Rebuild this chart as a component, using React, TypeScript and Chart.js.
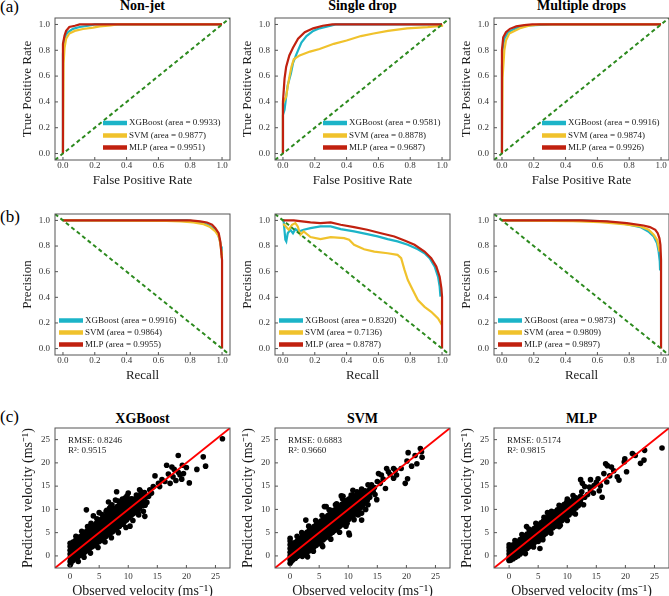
import React, { useEffect, useRef } from "react";
import { Chart, registerables } from "chart.js";

Chart.register(...registerables);

const SERIF = '"Liberation Serif", "Times New Roman", Times, serif';

// ---------------- labels & styles ----------------
const modelNames = ["XGBoost", "SVM", "MLP"];
const modelColors = ["#1cb4c8", "#f0c22c", "#c1210f"];
const chanceColor = "#2c8a1e";
const rocTitles = ["Non-jet", "Single drop", "Multiple drops"];
const scatterTitles = ["XGBoost", "SVM", "MLP"];
const panelLetters = ["(a)", "(b)", "(c)"];
const unitTicks = [0, 0.2, 0.4, 0.6, 0.8, 1.0];
const velocityTicks = [0, 5, 10, 15, 20, 25];
const unitRange = [-0.05, 1.05];
const velocityRange = [-2.6, 27.5];

const rocAreasNonJet = ["0.9933", "0.9877", "0.9951"];
const rocAreasSingle = ["0.9581", "0.8878", "0.9687"];
const rocAreasMultiple = ["0.9916", "0.9874", "0.9926"];
const prAreasNonJet = ["0.9916", "0.9864", "0.9955"];
const prAreasSingle = ["0.8320", "0.7136", "0.8787"];
const prAreasMultiple = ["0.9873", "0.9809", "0.9897"];
const rmseValues = ["0.8246", "0.6883", "0.5174"];
const r2Values = ["0.9515", "0.9660", "0.9815"];

// ---------------- ROC curves (FPR, TPR) ----------------
const rocNonJetXGB = [[0,0],[0,0.77],[0.006,0.876],[0.017,0.915],[0.03,0.94],[0.063,0.966],[0.105,0.98],[0.158,0.99],[0.2,1.0],[1,1]];
const rocNonJetSVM = [[0,0],[0.004,0.70],[0.01,0.82],[0.02,0.89],[0.04,0.93],[0.074,0.95],[0.126,0.965],[0.19,0.975],[0.23,0.985],[0.3,0.992],[0.34,1.0],[1,1]];
const rocNonJetMLP = [[0,0],[0,0.85],[0.01,0.915],[0.02,0.95],[0.04,0.98],[0.075,0.99],[0.105,1.0],[1,1]];

const rocSingleXGB = [[0,0],[0,0.3],[0.01,0.34],[0.02,0.44],[0.03,0.53],[0.05,0.62],[0.063,0.70],[0.085,0.77],[0.116,0.86],[0.148,0.91],[0.19,0.95],[0.23,0.97],[0.3,0.99],[0.33,1.0],[1,1]];
const rocSingleSVM = [[0,0],[0,0.39],[0.02,0.44],[0.03,0.52],[0.04,0.59],[0.053,0.67],[0.068,0.73],[0.105,0.76],[0.17,0.79],[0.23,0.81],[0.32,0.85],[0.40,0.876],[0.49,0.91],[0.57,0.93],[0.66,0.95],[0.78,0.97],[0.91,0.98],[1.0,0.99],[1,1]];
const rocSingleMLP = [[0,0],[0,0.4],[0.01,0.58],[0.02,0.67],[0.04,0.76],[0.063,0.82],[0.095,0.89],[0.137,0.94],[0.19,0.97],[0.25,0.99],[0.31,1.0],[1,1]];

const rocMultiXGB = [[0,0],[0,0.67],[0.004,0.81],[0.015,0.89],[0.036,0.935],[0.068,0.96],[0.11,0.98],[0.17,0.992],[0.24,0.997],[0.32,1.0],[1,1]];
const rocMultiSVM = [[0,0],[0.004,0.59],[0.015,0.8],[0.025,0.876],[0.046,0.93],[0.078,0.95],[0.12,0.974],[0.17,0.99],[0.24,1.0],[1,1]];
const rocMultiMLP = [[0,0],[0,0.8],[0.008,0.9],[0.025,0.94],[0.05,0.966],[0.09,0.985],[0.14,0.995],[0.19,1.0],[1,1]];

// ---------------- PR curves (Recall, Precision) ----------------
const prNonJetXGB = [[0,1],[0.78,1.0],[0.84,0.99],[0.895,0.974],[0.926,0.953],[0.958,0.927],[0.975,0.888],[0.985,0.849],[0.994,0.796],[0.998,0.73]];
const prNonJetSVM = [[0,1],[0.65,0.997],[0.74,0.992],[0.82,0.984],[0.884,0.971],[0.926,0.948],[0.958,0.914],[0.979,0.875],[0.989,0.822],[0.996,0.757],[0.998,0.705]];
const prNonJetMLP = [[0,1],[0.8,1.0],[0.863,0.992],[0.905,0.984],[0.937,0.966],[0.958,0.94],[0.979,0.9],[0.989,0.836],[0.994,0.77],[1.0,0.69],[1.0,0.0]];

const prSingleXGB = [[0,1.0],[0.004,1.0],[0.015,0.85],[0.021,0.836],[0.03,0.9],[0.046,0.927],[0.063,0.9],[0.078,0.932],[0.1,0.914],[0.13,0.927],[0.173,0.94],[0.236,0.953],[0.3,0.953],[0.363,0.932],[0.447,0.914],[0.53,0.893],[0.595,0.875],[0.658,0.854],[0.72,0.836],[0.785,0.81],[0.848,0.775],[0.89,0.744],[0.922,0.705],[0.954,0.64],[0.975,0.56],[0.985,0.483],[0.99,0.405]];
const prSingleSVM = [[0,0.97],[0.008,0.966],[0.036,0.927],[0.057,0.966],[0.078,0.979],[0.093,0.953],[0.11,0.888],[0.13,0.914],[0.173,0.87],[0.236,0.854],[0.3,0.87],[0.384,0.862],[0.416,0.849],[0.447,0.81],[0.51,0.775],[0.574,0.757],[0.658,0.744],[0.72,0.731],[0.743,0.705],[0.764,0.614],[0.785,0.535],[0.816,0.457],[0.848,0.379],[0.89,0.326],[0.932,0.287],[0.975,0.235],[1.0,0.183]];
const prSingleMLP = [[0,1.0],[0.068,1.0],[0.12,0.992],[0.173,0.984],[0.236,0.979],[0.3,0.984],[0.363,0.966],[0.447,0.948],[0.53,0.927],[0.616,0.9],[0.7,0.875],[0.764,0.843],[0.827,0.81],[0.89,0.757],[0.932,0.705],[0.964,0.64],[0.985,0.561],[0.996,0.47],[1.0,0.405],[1.0,0.0]];

const prMultiXGB = [[0,1],[0.51,1.0],[0.658,0.99],[0.785,0.971],[0.87,0.948],[0.92,0.914],[0.954,0.875],[0.975,0.822],[0.985,0.757],[0.992,0.68],[0.994,0.61]];
const prMultiSVM = [[0,1],[0.447,0.995],[0.616,0.987],[0.764,0.971],[0.87,0.953],[0.922,0.927],[0.954,0.888],[0.975,0.849],[0.985,0.796],[0.99,0.757]];
const prMultiMLP = [[0,1],[0.49,1.0],[0.66,0.992],[0.785,0.979],[0.89,0.96],[0.93,0.948],[0.964,0.927],[0.979,0.9],[0.99,0.86],[0.996,0.81],[1.0,0.69],[1.0,0.0]];

const rocChance = [[-0.05,-0.05],[1.05,1.05]];
const prChance = [[-0.05,1.05],[1.05,-0.05]];
const identityLine = [[-2.6,-2.6],[27.5,27.5]];

// ---------------- regression scatter (observed, predicted) ----------------
const xgbPoints = [
  [0,-2.0],[0,-1.2],[0,-0.4],[0,0.4],[0,1.2],[0,2.0],[0,2.7],
  [0.15,-1.5],[0.15,-0.6],[0.2,0.3],[0.2,1.1],[0.15,1.9],[0.2,2.6],
  [0.5,-1.0],[0.5,-0.2],[0.5,0.7],[0.5,1.5],[0.5,2.4],[0.5,3.0],
  [0.9,-0.6],[0.9,0.3],[0.9,1.1],[0.9,2.0],[0.9,2.8],[0.9,3.3],
  [1.3,-0.3],[1.3,0.6],[1.3,1.5],[1.3,2.4],[1.3,3.2],[1.3,3.7],
  [1.7,0.1],[1.7,1.0],[1.7,1.9],[1.7,2.8],[1.7,3.6],[1.7,4.1],
  [2.1,0.4],[2.1,1.3],[2.1,2.3],[2.1,3.2],[2.1,4.0],[2.1,4.5],
  [2.5,0.8],[2.5,1.7],[2.5,2.7],[2.5,3.6],[2.5,4.4],[2.5,5.0],
  [2.9,1.1],[2.9,2.1],[2.9,3.1],[2.9,4.0],[2.9,4.8],[2.9,5.4],
  [3.3,1.5],[3.3,2.5],[3.3,3.4],[3.3,4.4],[3.3,5.2],[3.3,5.8],
  [3.7,1.9],[3.7,2.9],[3.7,3.8],[3.7,4.8],[3.7,5.6],[3.7,6.2],
  [4.1,2.2],[4.1,3.2],[4.1,4.2],[4.1,5.2],[4.1,6.0],[4.1,6.6],
  [4.5,2.6],[4.5,3.6],[4.5,4.6],[4.5,5.6],[4.5,6.4],[4.5,7.0],
  [4.9,3.0],[4.9,4.0],[4.9,5.0],[4.9,6.0],[4.9,6.8],[4.9,7.4],
  [5.3,3.3],[5.3,4.3],[5.3,5.3],[5.3,6.3],[5.3,7.2],[5.3,7.8],
  [5.7,3.7],[5.7,4.7],[5.7,5.7],[5.7,6.7],[5.7,7.6],[5.7,8.2],
  [6.1,4.1],[6.1,5.1],[6.1,6.1],[6.1,7.1],[6.1,8.0],[6.1,8.6],
  [6.5,4.5],[6.5,5.5],[6.5,6.5],[6.5,7.5],[6.5,8.4],[6.5,9.0],
  [6.9,4.8],[6.9,5.9],[6.9,6.9],[6.9,7.9],[6.9,8.8],[6.9,9.4],
  [7.3,5.2],[7.3,6.3],[7.3,7.3],[7.3,8.3],[7.3,9.2],[7.3,9.8],
  [7.7,5.6],[7.7,6.7],[7.7,7.7],[7.7,8.7],[7.7,9.6],[7.7,10.2],
  [8.1,6.0],[8.1,7.1],[8.1,8.1],[8.1,9.1],[8.1,10.0],[8.1,10.6],
  [8.5,6.4],[8.5,7.5],[8.5,8.5],[8.5,9.5],[8.5,10.4],[8.5,11.0],
  [8.9,6.9],[8.9,7.9],[8.9,8.9],[8.9,9.9],[8.9,10.8],[8.9,11.3],
  [9.3,7.3],[9.3,8.3],[9.3,9.3],[9.3,10.3],[9.3,11.2],
  [9.7,7.7],[9.7,8.7],[9.7,9.7],[9.7,10.7],[9.7,11.6],
  [10.1,8.2],[10.1,9.2],[10.1,10.1],[10.1,11.1],[10.1,12.0],
  [10.5,8.7],[10.5,9.6],[10.5,10.5],[10.5,11.5],[10.5,12.3],
  [10.9,9.1],[10.9,10.1],[10.9,11.0],[10.9,11.9],
  [11.4,9.7],[11.4,10.6],[11.4,11.5],[11.4,12.4],
  [11.9,10.2],[11.9,11.2],[11.9,12.1],[11.9,12.9],
  [12.4,10.8],[12.4,11.8],[12.6,12.8],[12.9,11.4],[13.0,12.6],[12.8,13.6],
  [1.0,4.2],[2.0,5.3],[3.0,6.3],[3.6,7.0],[4.6,8.0],[5.5,8.9],[6.3,9.8],[7.0,10.6],
  [8.3,11.8],[9.5,12.5],[3.5,0.6],[4.8,1.8],[6.0,3.0],[7.1,3.9],[8.3,5.0],[9.6,6.1],
  [10.8,7.6],[11.8,8.8],[1.4,-1.2],[2.4,-0.3],[5.0,9.3],[4.0,8.6],[7.8,12.0],[6.6,11.6],
  [18.6,21.6],[22.9,21.3],[23.3,19.3],[21.8,18.6],[20.5,15.7],[19.5,17.7],[16.6,19.5],[17.5,19.1],
  [17.9,18.6],[18.9,17.4],[19.2,16.5],[17.7,17.0],[18.6,18.0],[14.6,17.2],[15.2,15.6],[16.3,16.0],
  [15.4,14.9],[14.3,14.9],[13.7,14.2],[8.0,13.8],[2.8,9.9],[11.4,13.1],[11.95,14.2],[10.8,12.2],
  [10.0,13.5],[12.85,8.5],[12.6,9.6],[10.3,6.4],[9.4,8.1],[6.8,10.3],[6.2,9.6],[7.7,7.8],[9.1,6.8],
  [26.2,25.2],[15.8,16.4],[14.0,13.5],[13.2,11.5],[12.2,13.8],[9.0,12.2],[7.2,11.0],[13.5,12.8],
  [16.9,17.6],[18.2,16.2],[20.0,19.0],[19.3,19.5],[17.2,15.6],[12.9,10.9],[11.7,9.3],[9.8,12.9]
];

const svmPoints = [
  [0,-1.6],[0,-0.8],[0,0.0],[0,0.8],[0,1.6],[0,2.4],[0,3.2],[0,3.8],
  [0.2,-1.2],[0.2,-0.3],[0.2,0.6],[0.2,1.5],[0.2,2.3],
  [0.5,-0.8],[0.5,0.1],[0.5,1.0],[0.5,1.9],[0.5,2.6],
  [0.9,-0.5],[0.9,0.4],[0.9,1.3],[0.9,2.2],[0.9,2.9],
  [1.3,-0.1],[1.3,0.8],[1.3,1.7],[1.3,2.6],[1.3,3.3],
  [1.7,0.3],[1.7,1.2],[1.7,2.1],[1.7,3.0],[1.7,3.7],
  [2.1,-0.1],[2.1,0.8],[2.1,1.7],[2.1,2.6],[2.1,3.5],[2.1,4.3],
  [2.5,0.3],[2.5,1.2],[2.5,2.1],[2.5,3.0],[2.5,3.9],[2.5,4.7],
  [2.9,0.7],[2.9,1.6],[2.9,2.5],[2.9,3.4],[2.9,4.3],[2.9,5.1],
  [3.3,1.1],[3.3,2.0],[3.3,2.9],[3.3,3.8],[3.3,4.7],[3.3,5.5],
  [3.7,1.5],[3.7,2.4],[3.7,3.3],[3.7,4.2],[3.7,5.1],[3.7,5.9],
  [4.1,1.9],[4.1,2.8],[4.1,3.7],[4.1,4.6],[4.1,5.5],[4.1,6.3],
  [4.5,2.3],[4.5,3.2],[4.5,4.1],[4.5,5.0],[4.5,5.9],[4.5,6.7],
  [4.9,2.7],[4.9,3.6],[4.9,4.5],[4.9,5.4],[4.9,6.3],[4.9,7.1],
  [5.3,3.1],[5.3,4.0],[5.3,4.9],[5.3,5.8],[5.3,6.7],[5.3,7.5],
  [5.7,3.5],[5.7,4.4],[5.7,5.3],[5.7,6.2],[5.7,7.1],[5.7,7.9],
  [6.1,3.9],[6.1,4.8],[6.1,5.7],[6.1,6.6],[6.1,7.5],[6.1,8.3],
  [6.5,4.3],[6.5,5.2],[6.5,6.1],[6.5,7.0],[6.5,7.9],[6.5,8.7],
  [6.9,4.7],[6.9,5.6],[6.9,6.5],[6.9,7.4],[6.9,8.3],[6.9,9.1],
  [7.3,5.1],[7.3,6.0],[7.3,6.9],[7.3,7.8],[7.3,8.7],[7.3,9.5],
  [7.7,5.5],[7.7,6.4],[7.7,7.3],[7.7,8.2],[7.7,9.1],[7.7,9.9],
  [8.1,5.9],[8.1,6.8],[8.1,7.7],[8.1,8.6],[8.1,9.5],[8.1,10.3],
  [8.5,6.3],[8.5,7.2],[8.5,8.1],[8.5,9.0],[8.5,9.9],[8.5,10.7],
  [8.9,6.7],[8.9,7.6],[8.9,8.5],[8.9,9.4],[8.9,10.3],[8.9,11.1],
  [9.3,7.1],[9.3,8.0],[9.3,8.9],[9.3,9.8],[9.3,10.7],[9.3,11.5],
  [9.7,7.5],[9.7,8.4],[9.7,9.3],[9.7,10.2],[9.7,11.1],[9.7,11.9],
  [10.1,7.9],[10.1,8.8],[10.1,9.7],[10.1,10.6],[10.1,11.5],[10.1,12.2],
  [10.5,8.4],[10.5,9.3],[10.5,10.2],[10.5,11.1],[10.5,11.9],[10.5,12.6],
  [10.9,8.8],[10.9,9.7],[10.9,10.6],[10.9,11.5],[10.9,12.3],[10.9,13.0],
  [11.3,9.3],[11.3,10.2],[11.3,11.1],[11.3,12.0],[11.3,12.8],
  [11.7,9.8],[11.7,10.7],[11.7,11.6],[11.7,12.5],[11.7,13.2],
  [12.1,10.3],[12.1,11.2],[12.1,12.1],[12.1,13.0],[12.1,13.7],
  [12.5,10.9],[12.5,11.8],[12.5,12.7],[12.5,13.5],
  [12.9,11.4],[12.9,12.3],[12.9,13.2],[12.9,14.0],
  [13.3,12.0],[13.3,12.9],[13.3,13.8],[13.7,12.6],[13.7,13.5],[13.7,14.3],
  [2.0,5.0],[3.2,6.4],[4.4,7.6],[5.5,8.7],[6.7,9.9],[7.8,11.0],[9.0,12.3],[4.0,1.0],
  [5.5,2.3],[7.0,3.6],[8.5,5.1],[9.6,6.4],[11.0,7.8],[12.3,9.2],[1.2,4.2],[3.0,-0.2],
  [6.2,10.6],[8.8,12.9],
  [20.3,22.2],[22.4,23.1],[22.6,22.4],[22.7,21.2],[21.5,21.6],[20.1,20.4],[21.8,19.8],[20.9,19.3],
  [19.1,18.8],[20.2,16.6],[19.8,15.6],[18.1,18.4],[18.3,17.4],[17.8,16.7],[16.6,18.8],[16.9,18.1],
  [17.8,18.8],[15.7,17.4],[15.2,17.7],[16.4,14.5],[15.5,15.6],[14.0,15.3],[14.3,13.8],[13.4,15.3],
  [12.7,13.8],[14.9,12.1],[14.6,13.2],[13.4,11.0],[11.7,8.8],[12.3,7.7],[9.8,7.0],[10.2,4.5],
  [10.1,4.9],[5.9,10.6],[2.7,7.7],[9.1,12.8],[10.5,13.1],[10.8,14.1],[12.3,14.4],[5.6,2.0],
  [15.0,16.0],[16.0,16.5],[17.2,17.5],[14.5,14.7],[11.5,13.8],[13.0,10.0],[8.0,11.2],[7.0,9.8]
];

const mlpPoints = [
  [0,-1.0],[0,-0.3],[0,0.4],[0,1.1],[0,1.8],[0,2.4],
  [0.3,-0.9],[0.3,-0.1],[0.3,0.7],[0.3,1.5],[0.3,2.1],
  [0.7,-0.6],[0.7,0.2],[0.7,1.0],[0.7,1.8],[0.7,2.4],
  [1.1,-0.3],[1.1,0.5],[1.1,1.3],[1.1,2.1],[1.1,2.7],
  [1.5,0.0],[1.5,0.8],[1.5,1.6],[1.5,2.4],[1.5,3.1],
  [1.9,0.4],[1.9,1.2],[1.9,2.0],[1.9,2.8],[1.9,3.5],
  [2.3,0.8],[2.3,1.6],[2.3,2.4],[2.3,3.2],[2.3,3.9],
  [2.7,1.2],[2.7,2.0],[2.7,2.8],[2.7,3.6],[2.7,4.3],
  [3.1,1.6],[3.1,2.4],[3.1,3.2],[3.1,4.0],[3.1,4.7],
  [3.5,2.0],[3.5,2.8],[3.5,3.6],[3.5,4.4],[3.5,5.1],
  [3.9,2.4],[3.9,3.2],[3.9,4.0],[3.9,4.8],[3.9,5.5],
  [4.3,2.8],[4.3,3.6],[4.3,4.4],[4.3,5.2],[4.3,5.9],
  [4.7,3.2],[4.7,4.0],[4.7,4.8],[4.7,5.6],[4.7,6.3],
  [5.1,3.6],[5.1,4.4],[5.1,5.2],[5.1,6.0],[5.1,6.7],
  [5.5,4.0],[5.5,4.8],[5.5,5.6],[5.5,6.4],[5.5,7.1],
  [5.9,4.4],[5.9,5.2],[5.9,6.0],[5.9,6.8],[5.9,7.5],
  [6.3,4.8],[6.3,5.6],[6.3,6.4],[6.3,7.2],[6.3,7.9],
  [6.7,5.2],[6.7,6.0],[6.7,6.8],[6.7,7.6],[6.7,8.3],
  [7.1,5.6],[7.1,6.4],[7.1,7.2],[7.1,8.0],[7.1,8.7],
  [7.5,6.0],[7.5,6.8],[7.5,7.6],[7.5,8.4],[7.5,9.1],
  [7.9,6.4],[7.9,7.2],[7.9,8.0],[7.9,8.8],[7.9,9.5],
  [8.3,6.8],[8.3,7.6],[8.3,8.4],[8.3,9.2],[8.3,9.9],
  [8.7,7.2],[8.7,8.0],[8.7,8.8],[8.7,9.6],[8.7,10.3],
  [9.1,7.6],[9.1,8.4],[9.1,9.2],[9.1,10.0],[9.1,10.7],
  [9.5,8.0],[9.5,8.8],[9.5,9.6],[9.5,10.4],[9.5,11.1],
  [9.9,8.4],[9.9,9.2],[9.9,10.0],[9.9,10.8],[9.9,11.5],
  [10.3,8.8],[10.3,9.6],[10.3,10.4],[10.3,11.2],[10.3,11.8],
  [10.7,9.3],[10.7,10.1],[10.7,10.9],[10.7,11.6],
  [11.1,9.8],[11.1,10.6],[11.1,11.4],[11.1,12.1],
  [11.5,10.3],[11.5,11.1],[11.5,11.9],[11.5,12.5],
  [11.9,10.8],[11.9,11.6],[11.9,12.3],[12.3,11.3],[12.3,12.1],[12.3,12.8],
  [1.0,3.3],[2.2,4.6],[3.4,5.8],[4.6,7.0],[6.0,8.3],[7.3,9.6],[8.6,10.9],[10.0,12.2],
  [2.8,0.5],[4.2,1.9],[5.8,3.5],[7.2,4.9],[8.6,6.3],[10.0,7.6],[11.4,9.0],[6.6,9.3],[3.0,6.3],
  [26.3,23.2],[23.3,22.7],[23.2,20.6],[22.6,19.9],[21.2,22.0],[21.7,21.6],[19.9,20.9],[19.8,20.2],
  [20.2,18.1],[18.6,17.0],[18.9,16.3],[17.6,19.1],[16.6,19.8],[16.9,19.4],[16.8,15.9],[16.3,17.7],
  [15.7,15.1],[15.3,16.6],[14.6,15.1],[15.5,14.0],[16.0,12.6],[14.0,14.0],[14.0,16.4],[12.3,16.4],
  [12.6,15.6],[13.0,14.9],[13.0,12.6],[11.4,12.3],[12.0,11.3],[8.8,6.6],[5.3,1.6],[5.0,3.1],
  [0,-0.8],[13.5,13.2],[14.5,13.5],[12.5,13.8],[13.8,14.8],[17.3,17.2],[18.0,18.3],[15.0,15.8],
  [11.0,13.0],[12.8,11.0]
];

// ---------------- layout ----------------
const plotLefts = [55, 275, 494];
const rowTops = [18, 214, 428];
const rowHeights = [142, 141, 140];
const PLOT_W = 175;
const PAD_LEFT = 20;
const Y_BOX = 35;
const PAD_TOP = 3;
const PAD_RIGHT = 2;

const toXY = (a: number[][]) => a.map(([x, y]) => ({ x, y }));

function makeScale(axis: "x" | "y", range: number[], ticks: number[], decimals: number, title: string, titleSize: number, tickPad: number, box: number) {
  return {
    type: "linear",
    position: axis === "x" ? "bottom" : "left",
    min: range[0],
    max: range[1],
    grid: { display: false, drawTicks: false },
    border: { display: false },
    afterBuildTicks: (s: any) => { s.ticks = ticks.map((v) => ({ value: v })); },
    afterFit: (s: any) => {
      if (axis === "x") s.height = box; else s.width = box;
      s.paddingLeft = 0; s.paddingRight = 0; s.paddingTop = 0; s.paddingBottom = 0;
    },
    ticks: {
      autoSkip: false, maxRotation: 0, minRotation: 0, padding: tickPad, color: "#333",
      font: { family: SERIF, size: 9 },
      callback: (v: any) => Number(v).toFixed(decimals),
    },
    title: { display: true, text: title, color: "#1a1a1a", padding: 0, font: { family: SERIF, size: titleSize } },
  };
}

const framePlugin = {
  id: "frame",
  afterDatasetsDraw(chart: any) {
    const { ctx, chartArea: a, scales } = chart;
    ctx.save();
    ctx.strokeStyle = "#555";
    ctx.lineWidth = 1;
    ctx.strokeRect(a.left, a.top, a.right - a.left, a.bottom - a.top);
    ctx.beginPath();
    scales.x.ticks.forEach((t: any) => {
      const px = scales.x.getPixelForValue(t.value);
      ctx.moveTo(px, a.bottom); ctx.lineTo(px, a.bottom - 3);
    });
    scales.y.ticks.forEach((t: any) => {
      const py = scales.y.getPixelForValue(t.value);
      ctx.moveTo(a.left, py); ctx.lineTo(a.left + 3, py);
    });
    ctx.stroke();
    ctx.restore();
  },
};

function cornerLegend(items: { label: string; color: string }[], corner: "br" | "bl") {
  return {
    id: "cornerLegend",
    afterDraw(chart: any) {
      const { ctx, chartArea: a } = chart;
      const rows = corner === "br" ? [37, 24.5, 12.5] : [34.5, 22.5, 10.5];
      const hx = corner === "br" ? a.right - 127 : a.left + 4;
      ctx.save();
      ctx.font = `9px ${SERIF}`;
      ctx.textBaseline = "middle";
      ctx.textAlign = "left";
      items.forEach((it, i) => {
        const y = a.bottom - rows[i];
        ctx.strokeStyle = it.color;
        ctx.lineWidth = 4.5;
        ctx.lineCap = "butt";
        ctx.beginPath(); ctx.moveTo(hx, y); ctx.lineTo(hx + 24, y); ctx.stroke();
        ctx.fillStyle = "#1a1a1a";
        ctx.fillText(it.label, hx + 26, y);
      });
      ctx.restore();
    },
  };
}

function statsNote(lines: string[]) {
  return {
    id: "statsNote",
    afterDraw(chart: any) {
      const { ctx, chartArea: a } = chart;
      ctx.save();
      ctx.font = `9px ${SERIF}`;
      ctx.textBaseline = "middle";
      ctx.textAlign = "left";
      ctx.fillStyle = "#1a1a1a";
      lines.forEach((l, i) => ctx.fillText(l, a.left + 13, a.top + 13 + i * 10));
      ctx.restore();
    },
  };
}

function baseOptions(scales: any) {
  return {
    animation: false,
    responsive: false,
    events: [],
    layout: { autoPadding: false, padding: { left: PAD_LEFT, top: PAD_TOP, right: PAD_RIGHT, bottom: 0 } },
    plugins: { legend: { display: false }, tooltip: { enabled: false } },
    scales,
  };
}

function curveConfig(series: number[][][], areas: string[], chance: number[][], corner: "br" | "bl", xTitle: string, yTitle: string) {
  const datasets: any[] = series.map((s, i) => ({
    label: `${modelNames[i]} (area = ${areas[i]})`,
    data: toXY(s),
    showLine: true,
    borderColor: modelColors[i],
    borderWidth: 2.2,
    pointRadius: 0,
    fill: false,
    tension: 0,
    order: 3 - i,
  }));
  datasets.push({
    label: "chance",
    data: toXY(chance),
    showLine: true,
    borderColor: chanceColor,
    borderWidth: 2,
    borderDash: [4, 3],
    pointRadius: 0,
    fill: false,
    order: 0,
  });
  const items = series.map((_, i) => ({ label: datasets[i].label, color: modelColors[i] }));
  return {
    type: "scatter",
    data: { datasets },
    options: baseOptions({
      x: makeScale("x", unitRange, unitTicks, 1, xTitle, 13, 0, 28),
      y: makeScale("y", unitRange, unitTicks, 1, yTitle, 13, 5, Y_BOX),
    }),
    plugins: [framePlugin, cornerLegend(items, corner)],
  };
}

function scatterConfig(points: number[][], rmse: string, r2: string) {
  return {
    type: "scatter",
    data: {
      datasets: [
        { label: "samples", data: toXY(points), showLine: false, pointRadius: 2.8, pointBackgroundColor: "#000", pointBorderWidth: 0, order: 1 },
        { label: "y = x", data: toXY(identityLine), showLine: true, borderColor: "#ff0000", borderWidth: 1.8, pointRadius: 0, fill: false, order: 0 },
      ],
    },
    options: baseOptions({
      x: makeScale("x", velocityRange, velocityTicks, 0, "Observed velocity (ms\u207B\u00B9)", 14, 3, 32),
      y: makeScale("y", velocityRange, velocityTicks, 0, "Predicted velocity (ms\u207B\u00B9)", 14, 5, Y_BOX),
    }),
    plugins: [framePlugin, statsNote([`RMSE: ${rmse}`, `R\u00B2: ${r2}`])],
  };
}

const panels = [
  { row: 0, col: 0, xH: 28, cfg: () => curveConfig([rocNonJetXGB, rocNonJetSVM, rocNonJetMLP], rocAreasNonJet, rocChance, "br", "False Positive Rate", "True Positive Rate") },
  { row: 0, col: 1, xH: 28, cfg: () => curveConfig([rocSingleXGB, rocSingleSVM, rocSingleMLP], rocAreasSingle, rocChance, "br", "False Positive Rate", "True Positive Rate") },
  { row: 0, col: 2, xH: 28, cfg: () => curveConfig([rocMultiXGB, rocMultiSVM, rocMultiMLP], rocAreasMultiple, rocChance, "br", "False Positive Rate", "True Positive Rate") },
  { row: 1, col: 0, xH: 28, cfg: () => curveConfig([prNonJetXGB, prNonJetSVM, prNonJetMLP], prAreasNonJet, prChance, "bl", "Recall", "Precision") },
  { row: 1, col: 1, xH: 28, cfg: () => curveConfig([prSingleXGB, prSingleSVM, prSingleMLP], prAreasSingle, prChance, "bl", "Recall", "Precision") },
  { row: 1, col: 2, xH: 28, cfg: () => curveConfig([prMultiXGB, prMultiSVM, prMultiMLP], prAreasMultiple, prChance, "bl", "Recall", "Precision") },
  { row: 2, col: 0, xH: 32, cfg: () => scatterConfig(xgbPoints, rmseValues[0], r2Values[0]) },
  { row: 2, col: 1, xH: 32, cfg: () => scatterConfig(svmPoints, rmseValues[1], r2Values[1]) },
  { row: 2, col: 2, xH: 32, cfg: () => scatterConfig(mlpPoints, rmseValues[2], r2Values[2]) },
];

function Panel({ row, col, xH, cfg }: { row: number; col: number; xH: number; cfg: () => any }) {
  const ref = useRef<HTMLCanvasElement>(null);
  const w = PAD_LEFT + Y_BOX + PLOT_W + PAD_RIGHT;
  const h = PAD_TOP + rowHeights[row] + xH;
  const left = plotLefts[col] - PAD_LEFT - Y_BOX;
  const top = rowTops[row] - PAD_TOP;
  useEffect(() => {
    const chart = new Chart(ref.current as HTMLCanvasElement, cfg());
    return () => chart.destroy();
  }, []);
  return (
    <canvas
      ref={ref}
      width={w}
      height={h}
      style={{ position: "absolute", left, top, width: w, height: h }}
    />
  );
}

const titleTops = [-1, 411.6];
const letterTops = [-2, 208, 408];

export default function App() {
  useEffect(() => {
    document.body.style.margin = "0";
  }, []);
  return (
    <div style={{ position: "fixed", left: 0, top: 0, width: 669, height: 596, overflow: "hidden", background: "#fff", fontFamily: SERIF, color: "#000" }}>
      {panelLetters.map((t, i) => (
        <div key={t} style={{ position: "absolute", left: 0, top: letterTops[i], fontSize: 17, lineHeight: "17px", whiteSpace: "nowrap" }}>{t}</div>
      ))}
      {rocTitles.map((t, i) => (
        <div key={"r" + t} style={{ position: "absolute", left: plotLefts[i], top: titleTops[0], width: PLOT_W, textAlign: "center", fontWeight: "bold", fontSize: 14, lineHeight: "14px", whiteSpace: "nowrap" }}>{t}</div>
      ))}
      {scatterTitles.map((t, i) => (
        <div key={"s" + t} style={{ position: "absolute", left: plotLefts[i], top: titleTops[1], width: PLOT_W, textAlign: "center", fontWeight: "bold", fontSize: 14, lineHeight: "14px", whiteSpace: "nowrap" }}>{t}</div>
      ))}
      {panels.map((p) => (
        <Panel key={`${p.row}-${p.col}`} row={p.row} col={p.col} xH={p.xH} cfg={p.cfg} />
      ))}
    </div>
  );
}
